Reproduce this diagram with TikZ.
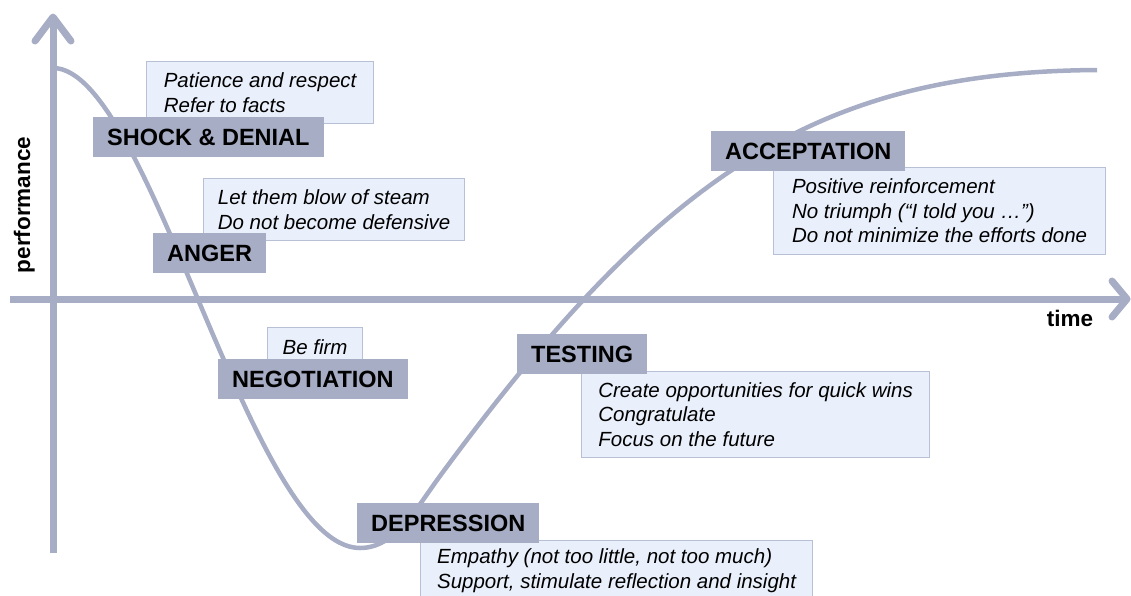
\documentclass[tikz,border=0pt]{standalone}
\usepackage{fontspec}
\setmainfont{Liberation Sans}
\definecolor{axisblue}{RGB}{166,173,196}
\definecolor{headfill}{RGB}{166,173,196}
\definecolor{notefill}{RGB}{234,240,251}
\definecolor{noteline}{RGB}{184,192,214}

\begin{document}
\begin{tikzpicture}[x=1pt,y=-1pt]
\tikzstyle{head}=[fill=headfill, anchor=north west, inner xsep=14pt, inner ysep=0pt, minimum height=40pt, font=\fontsize{23.5}{28}\selectfont\bfseries]
\tikzstyle{note}=[draw=noteline, line width=1.2pt, fill=notefill, anchor=north west, inner xsep=14pt, inner ysep=0pt, align=left, font=\fontsize{20.5}{24.5}\selectfont\itshape]
\tikzstyle{axis}=[axisblue, line width=7pt]
\tikzstyle{axislabel}=[font=\fontsize{22.5}{27}\selectfont\bfseries]
\clip (0,0) rectangle (1131,595);
% axes
\coordinate (ybot) at (53,553);
\coordinate (ytop) at (53,17);
\coordinate (xleft) at (10,299);
\coordinate (xright) at (1127,299);
\draw [axis] (ybot) -- (ytop);
\draw [axis, line cap=round, line join=round] (35,41) -- (ytop) -- (71,41);
\draw [axis] (xleft) -- (xright);
\draw [axis, line cap=round, line join=round] (1112,281) -- (xright) -- (1112,317);
\node [axislabel, rotate=90, anchor=base] (perf) at (30,205) {performance};
\node [axislabel, anchor=base] (time) at (1070,326) {time};
% change curve
\draw [axisblue, line width=4.5pt] (53,68) .. controls (150,68) and (250,548) .. (360,548)
  .. controls (395,548) and (415,510) .. (440,476)
  .. controls (665,170) and (820,72) .. (1097,70);
% phases
\node [note, minimum width=227pt, minimum height=62pt] (shocknote) at (146,61) {Patience and respect\\Refer to facts};
\node [head] (shock) at (93,117) {SHOCK \& DENIAL};
\node [note, minimum width=261pt, minimum height=62pt] (angernote) at (203,178) {Let them blow of steam\\Do not become defensive};
\node [head] (anger) at (153,233) {ANGER};
\node [note, minimum width=95pt, minimum height=40pt] (negonote) at (267,327) {Be firm};
\node [head] (nego) at (218,359) {NEGOTIATION};
\node [note, minimum width=392pt, minimum height=60pt] (depnote) at (420,540) {Empathy (not too little, not too much)\\Support, stimulate reflection and insight};
\node [head] (dep) at (357,503) {DEPRESSION};
\node [note, minimum width=348pt, minimum height=86pt] (testnote) at (581,371) {Create opportunities for quick wins\\Congratulate\\Focus on the future};
\node [head] (test) at (517,334) {TESTING};
\node [note, minimum width=332pt, minimum height=87pt] (accnote) at (773,167) {Positive reinforcement\\No triumph (“I told you …”)\\Do not minimize the efforts done};
\node [head] (acc) at (711,131) {ACCEPTATION};
\end{tikzpicture}
\end{document}
